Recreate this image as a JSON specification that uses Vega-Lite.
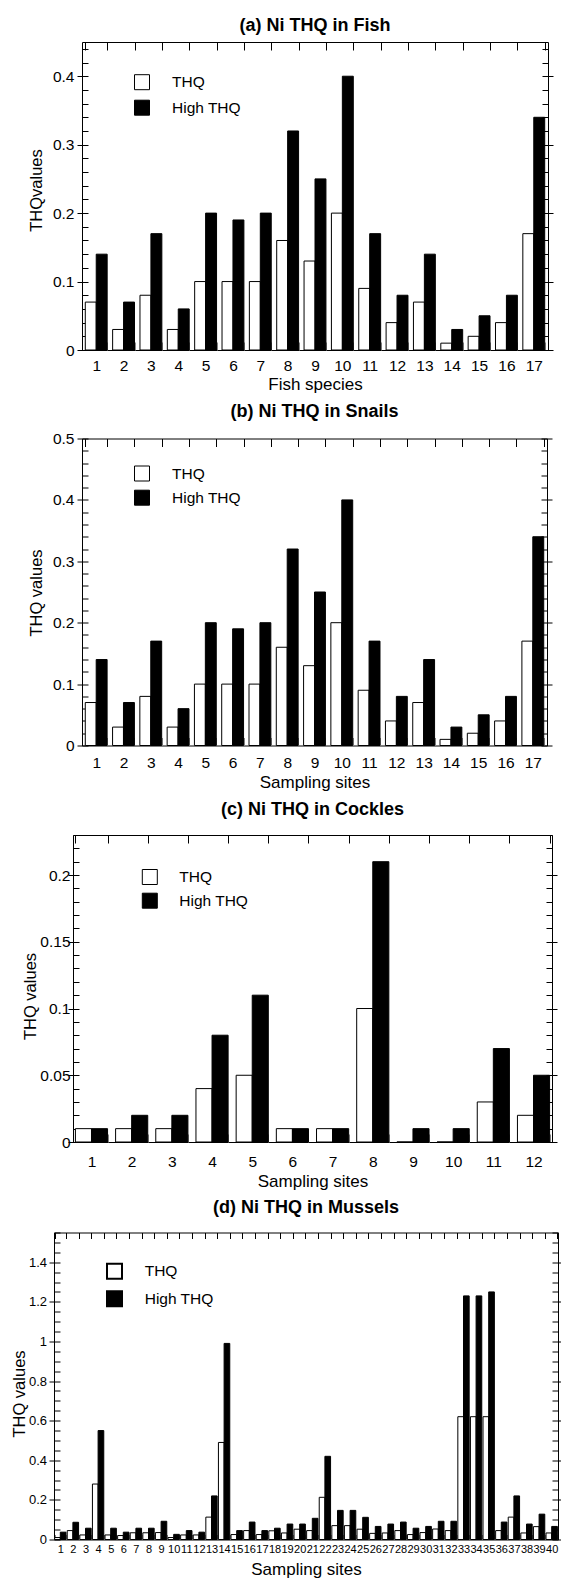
{
  "$schema": "https://vega.github.io/schema/vega-lite/v6.json",
  "background": "white",
  "padding": {"left": 10, "top": 16, "right": 0, "bottom": 0},
  "spacing": 8.5,
  "align": "each",
  "config": {
    "font": "Liberation Sans",
    "view": {"stroke": "black", "strokeWidth": 1},
    "axis": {"domain": false, "grid": false, "labelColor": "black", "titleColor": "black", "tickColor": "black", "tickWidth": 1, "titleFontWeight": "normal", "labelFontSize": 15.5, "titleFontSize": 17, "labelFont": "Liberation Sans", "titleFont": "Liberation Sans"},
    "title": {"font": "Liberation Sans", "fontSize": 18, "fontWeight": "bold", "color": "black", "anchor": "middle", "frame": "group"},
    "legend": {"labelFont": "Liberation Sans", "labelColor": "black", "labelFontSize": 15.5, "symbolStrokeColor": "black", "padding": 0}
  },
  "datasets": {
    "fish": [
      {"site":1,"series":"THQ","value":0.07},{"site":1,"series":"High THQ","value":0.14},
      {"site":2,"series":"THQ","value":0.03},{"site":2,"series":"High THQ","value":0.07},
      {"site":3,"series":"THQ","value":0.08},{"site":3,"series":"High THQ","value":0.17},
      {"site":4,"series":"THQ","value":0.03},{"site":4,"series":"High THQ","value":0.06},
      {"site":5,"series":"THQ","value":0.10},{"site":5,"series":"High THQ","value":0.20},
      {"site":6,"series":"THQ","value":0.10},{"site":6,"series":"High THQ","value":0.19},
      {"site":7,"series":"THQ","value":0.10},{"site":7,"series":"High THQ","value":0.20},
      {"site":8,"series":"THQ","value":0.16},{"site":8,"series":"High THQ","value":0.32},
      {"site":9,"series":"THQ","value":0.13},{"site":9,"series":"High THQ","value":0.25},
      {"site":10,"series":"THQ","value":0.20},{"site":10,"series":"High THQ","value":0.40},
      {"site":11,"series":"THQ","value":0.09},{"site":11,"series":"High THQ","value":0.17},
      {"site":12,"series":"THQ","value":0.04},{"site":12,"series":"High THQ","value":0.08},
      {"site":13,"series":"THQ","value":0.07},{"site":13,"series":"High THQ","value":0.14},
      {"site":14,"series":"THQ","value":0.01},{"site":14,"series":"High THQ","value":0.03},
      {"site":15,"series":"THQ","value":0.02},{"site":15,"series":"High THQ","value":0.05},
      {"site":16,"series":"THQ","value":0.04},{"site":16,"series":"High THQ","value":0.08},
      {"site":17,"series":"THQ","value":0.17},{"site":17,"series":"High THQ","value":0.34}
    ],
    "snails": [
      {"site":1,"series":"THQ","value":0.07},{"site":1,"series":"High THQ","value":0.14},
      {"site":2,"series":"THQ","value":0.03},{"site":2,"series":"High THQ","value":0.07},
      {"site":3,"series":"THQ","value":0.08},{"site":3,"series":"High THQ","value":0.17},
      {"site":4,"series":"THQ","value":0.03},{"site":4,"series":"High THQ","value":0.06},
      {"site":5,"series":"THQ","value":0.10},{"site":5,"series":"High THQ","value":0.20},
      {"site":6,"series":"THQ","value":0.10},{"site":6,"series":"High THQ","value":0.19},
      {"site":7,"series":"THQ","value":0.10},{"site":7,"series":"High THQ","value":0.20},
      {"site":8,"series":"THQ","value":0.16},{"site":8,"series":"High THQ","value":0.32},
      {"site":9,"series":"THQ","value":0.13},{"site":9,"series":"High THQ","value":0.25},
      {"site":10,"series":"THQ","value":0.20},{"site":10,"series":"High THQ","value":0.40},
      {"site":11,"series":"THQ","value":0.09},{"site":11,"series":"High THQ","value":0.17},
      {"site":12,"series":"THQ","value":0.04},{"site":12,"series":"High THQ","value":0.08},
      {"site":13,"series":"THQ","value":0.07},{"site":13,"series":"High THQ","value":0.14},
      {"site":14,"series":"THQ","value":0.01},{"site":14,"series":"High THQ","value":0.03},
      {"site":15,"series":"THQ","value":0.02},{"site":15,"series":"High THQ","value":0.05},
      {"site":16,"series":"THQ","value":0.04},{"site":16,"series":"High THQ","value":0.08},
      {"site":17,"series":"THQ","value":0.17},{"site":17,"series":"High THQ","value":0.34}
    ],
    "cockles": [
      {"site":1,"series":"THQ","value":0.01},{"site":1,"series":"High THQ","value":0.01},
      {"site":2,"series":"THQ","value":0.01},{"site":2,"series":"High THQ","value":0.02},
      {"site":3,"series":"THQ","value":0.01},{"site":3,"series":"High THQ","value":0.02},
      {"site":4,"series":"THQ","value":0.04},{"site":4,"series":"High THQ","value":0.08},
      {"site":5,"series":"THQ","value":0.05},{"site":5,"series":"High THQ","value":0.11},
      {"site":6,"series":"THQ","value":0.01},{"site":6,"series":"High THQ","value":0.01},
      {"site":7,"series":"THQ","value":0.01},{"site":7,"series":"High THQ","value":0.01},
      {"site":8,"series":"THQ","value":0.10},{"site":8,"series":"High THQ","value":0.21},
      {"site":9,"series":"THQ","value":0},{"site":9,"series":"High THQ","value":0.01},
      {"site":10,"series":"THQ","value":0},{"site":10,"series":"High THQ","value":0.01},
      {"site":11,"series":"THQ","value":0.03},{"site":11,"series":"High THQ","value":0.07},
      {"site":12,"series":"THQ","value":0.02},{"site":12,"series":"High THQ","value":0.05}
    ],
    "mussels": [
      {"site":1,"series":"THQ","value":0.01},{"site":1,"series":"High THQ","value":0.037},
      {"site":2,"series":"THQ","value":0.045},{"site":2,"series":"High THQ","value":0.087},
      {"site":3,"series":"THQ","value":0.023},{"site":3,"series":"High THQ","value":0.057},
      {"site":4,"series":"THQ","value":0.28},{"site":4,"series":"High THQ","value":0.55},
      {"site":5,"series":"THQ","value":0.023},{"site":5,"series":"High THQ","value":0.057},
      {"site":6,"series":"THQ","value":0.02},{"site":6,"series":"High THQ","value":0.037},
      {"site":7,"series":"THQ","value":0.034},{"site":7,"series":"High THQ","value":0.057},
      {"site":8,"series":"THQ","value":0.034},{"site":8,"series":"High THQ","value":0.057},
      {"site":9,"series":"THQ","value":0.035},{"site":9,"series":"High THQ","value":0.092},
      {"site":10,"series":"THQ","value":0.01},{"site":10,"series":"High THQ","value":0.026},
      {"site":11,"series":"THQ","value":0.023},{"site":11,"series":"High THQ","value":0.045},
      {"site":12,"series":"THQ","value":0.023},{"site":12,"series":"High THQ","value":0.037},
      {"site":13,"series":"THQ","value":0.113},{"site":13,"series":"High THQ","value":0.22},
      {"site":14,"series":"THQ","value":0.49},{"site":14,"series":"High THQ","value":0.99},
      {"site":15,"series":"THQ","value":0.025},{"site":15,"series":"High THQ","value":0.045},
      {"site":16,"series":"THQ","value":0.045},{"site":16,"series":"High THQ","value":0.088},
      {"site":17,"series":"THQ","value":0.025},{"site":17,"series":"High THQ","value":0.045},
      {"site":18,"series":"THQ","value":0.044},{"site":18,"series":"High THQ","value":0.057},
      {"site":19,"series":"THQ","value":0.033},{"site":19,"series":"High THQ","value":0.078},
      {"site":20,"series":"THQ","value":0.052},{"site":20,"series":"High THQ","value":0.078},
      {"site":21,"series":"THQ","value":0.045},{"site":21,"series":"High THQ","value":0.107},
      {"site":22,"series":"THQ","value":0.213},{"site":22,"series":"High THQ","value":0.42},
      {"site":23,"series":"THQ","value":0.07},{"site":23,"series":"High THQ","value":0.147},
      {"site":24,"series":"THQ","value":0.07},{"site":24,"series":"High THQ","value":0.147},
      {"site":25,"series":"THQ","value":0.052},{"site":25,"series":"High THQ","value":0.112},
      {"site":26,"series":"THQ","value":0.031},{"site":26,"series":"High THQ","value":0.066},
      {"site":27,"series":"THQ","value":0.033},{"site":27,"series":"High THQ","value":0.078},
      {"site":28,"series":"THQ","value":0.045},{"site":28,"series":"High THQ","value":0.088},
      {"site":29,"series":"THQ","value":0.025},{"site":29,"series":"High THQ","value":0.057},
      {"site":30,"series":"THQ","value":0.035},{"site":30,"series":"High THQ","value":0.066},
      {"site":31,"series":"THQ","value":0.053},{"site":31,"series":"High THQ","value":0.092},
      {"site":32,"series":"THQ","value":0.045},{"site":32,"series":"High THQ","value":0.092},
      {"site":33,"series":"THQ","value":0.62},{"site":33,"series":"High THQ","value":1.23},
      {"site":34,"series":"THQ","value":0.62},{"site":34,"series":"High THQ","value":1.23},
      {"site":35,"series":"THQ","value":0.62},{"site":35,"series":"High THQ","value":1.25},
      {"site":36,"series":"THQ","value":0.045},{"site":36,"series":"High THQ","value":0.088},
      {"site":37,"series":"THQ","value":0.113},{"site":37,"series":"High THQ","value":0.22},
      {"site":38,"series":"THQ","value":0.033},{"site":38,"series":"High THQ","value":0.078},
      {"site":39,"series":"THQ","value":0.065},{"site":39,"series":"High THQ","value":0.128},
      {"site":40,"series":"THQ","value":0.033},{"site":40,"series":"High THQ","value":0.066}
    ]
  },
  "resolve": {"scale": {"color": "independent", "xOffset": "independent"}, "legend": {"color": "independent"}},
  "vconcat": [
    {
      "spacing": 0,
      "resolve": {"scale": {"color": "independent"}, "legend": {"color": "independent"}},
      "hconcat": [
        {"width": 16.7, "height": 1, "data": {"values": [{"a": 1}]}, "mark": {"type": "text", "text": "", "opacity": 0}, "view": {"stroke": null}},
        {
          "title": {"text": "(a) Ni THQ in Fish", "offset": 6.7},
          "width": 466, "height": 308,
          "data": {"name": "fish"},
          "layer": [
            {
              "mark": {"type": "bar", "stroke": "black", "strokeWidth": 1},
              "encoding": {
                "x": {"field": "site", "type": "ordinal", "scale": {"domain": [1,2,3,4,5,6,7,8,9,10,11,12,13,14,15,16,17], "paddingInner": 0.2, "paddingOuter": 0.12},
                      "axis": {"orient": "bottom", "title": "Fish species", "labelAngle": 0, "tickBand": "extent", "offset": -8, "tickSize": 8, "tickColor": "#888888", "labelPadding": 8, "titlePadding": 2.5, "labelOverlap": false}},
                "xOffset": {"field": "series", "scale": {"domain": ["THQ", "High THQ"]}},
                "y": {"field": "value", "type": "quantitative", "stack": null, "scale": {"domain": [0, 0.45], "nice": false},
                      "axis": {"orient": "left", "values": [0,0.02,0.04,0.06,0.08,0.1,0.12,0.14,0.16,0.18,0.2,0.22,0.24,0.26,0.28,0.3,0.32,0.34,0.36,0.38,0.4,0.42,0.44], "format": "~g",
                               "labelExpr": "abs(datum.value*10-round(datum.value*10))<0.001 ? datum.label : ''",
                               "offset": -6, "tickSize": 11, "tickDash": {"condition": {"test": "abs(datum.value*10-round(datum.value*10))>0.001", "value": [6, 100]}, "value": []},
                               "labelPadding": 3, "labelFlush": false, "labelOverlap": false,
                               "title": "THQvalues", "titleX": -52, "titleY": 148, "titleBaseline": "middle", "titleFontSize": 16.5}},
                "color": {"field": "series", "type": "nominal", "scale": {"domain": ["THQ", "High THQ"], "range": ["white", "black"]},
                          "legend": {"orient": "none", "legendX": 52, "legendY": 32.2, "title": null, "symbolType": "square", "symbolSize": 225, "symbolStrokeWidth": 1, "labelOffset": 22, "rowPadding": 5.5}}
              }
            },
            {
              "mark": {"type": "bar", "opacity": 0},
              "encoding": {
                "x": {"field": "site", "type": "ordinal", "scale": {"domain": [1,2,3,4,5,6,7,8,9,10,11,12,13,14,15,16,17], "paddingInner": 0.2, "paddingOuter": 0.12},
                      "axis": {"orient": "top", "labels": false, "title": null, "tickBand": "extent", "offset": -8, "tickSize": 8}},
                "y": {"field": "value", "type": "quantitative", "stack": null, "scale": {"domain": [0, 0.45], "nice": false},
                      "axis": {"orient": "right", "values": [0,0.02,0.04,0.06,0.08,0.1,0.12,0.14,0.16,0.18,0.2,0.22,0.24,0.26,0.28,0.3,0.32,0.34,0.36,0.38,0.4,0.42,0.44], "labels": false, "title": null,
                               "offset": -6, "tickSize": 11, "tickDash": {"condition": {"test": "abs(datum.value*10-round(datum.value*10))>0.001", "value": [6, 100]}, "value": []}}}
              }
            }
          ],
          "resolve": {"axis": {"x": "independent", "y": "independent"}}
        }
      ]
    },
    {
      "spacing": 0,
      "resolve": {"scale": {"color": "independent"}, "legend": {"color": "independent"}},
      "hconcat": [
        {"width": 16.7, "height": 1, "data": {"values": [{"a": 1}]}, "mark": {"type": "text", "text": "", "opacity": 0}, "view": {"stroke": null}},
        {
          "title": {"text": "(b) Ni THQ in Snails", "offset": 10.7},
          "width": 465, "height": 307,
          "data": {"name": "snails"},
          "layer": [
            {
              "mark": {"type": "bar", "stroke": "black", "strokeWidth": 1},
              "encoding": {
                "x": {"field": "site", "type": "ordinal", "scale": {"domain": [1,2,3,4,5,6,7,8,9,10,11,12,13,14,15,16,17], "paddingInner": 0.2, "paddingOuter": 0.12},
                      "axis": {"orient": "bottom", "title": "Sampling sites", "labelAngle": 0, "tickBand": "extent", "offset": -8, "tickSize": 8, "tickColor": "#888888", "labelPadding": 10, "titlePadding": 3.9, "labelOverlap": false}},
                "xOffset": {"field": "series", "scale": {"domain": ["THQ", "High THQ"]}},
                "y": {"field": "value", "type": "quantitative", "stack": null, "scale": {"domain": [0, 0.5], "nice": false},
                      "axis": {"orient": "left", "values": [0,0.02,0.04,0.06,0.08,0.1,0.12,0.14,0.16,0.18,0.2,0.22,0.24,0.26,0.28,0.3,0.32,0.34,0.36,0.38,0.4,0.42,0.44,0.46,0.48,0.5], "format": "~g",
                               "labelExpr": "abs(datum.value*10-round(datum.value*10))<0.001 ? datum.label : ''",
                               "offset": -6, "tickSize": 11, "tickDash": {"condition": {"test": "abs(datum.value*10-round(datum.value*10))>0.001", "value": [6, 100]}, "value": []},
                               "labelPadding": 3, "labelFlush": false, "labelOverlap": false,
                               "title": "THQ values", "titleX": -52, "titleY": 154, "titleBaseline": "middle", "titleFontSize": 16.5}},
                "color": {"field": "series", "type": "nominal", "scale": {"domain": ["THQ", "High THQ"], "range": ["white", "black"]},
                          "legend": {"orient": "none", "legendX": 52, "legendY": 27, "title": null, "symbolType": "square", "symbolSize": 225, "symbolStrokeWidth": 1, "labelOffset": 22, "rowPadding": 4.2}}
              }
            },
            {
              "mark": {"type": "bar", "opacity": 0},
              "encoding": {
                "x": {"field": "site", "type": "ordinal", "scale": {"domain": [1,2,3,4,5,6,7,8,9,10,11,12,13,14,15,16,17], "paddingInner": 0.2, "paddingOuter": 0.12},
                      "axis": {"orient": "top", "labels": false, "title": null, "tickBand": "extent", "offset": -8, "tickSize": 8}},
                "y": {"field": "value", "type": "quantitative", "stack": null, "scale": {"domain": [0, 0.5], "nice": false},
                      "axis": {"orient": "right", "values": [0,0.02,0.04,0.06,0.08,0.1,0.12,0.14,0.16,0.18,0.2,0.22,0.24,0.26,0.28,0.3,0.32,0.34,0.36,0.38,0.4,0.42,0.44,0.46,0.48,0.5], "labels": false, "title": null,
                               "offset": -6, "tickSize": 11, "tickDash": {"condition": {"test": "abs(datum.value*10-round(datum.value*10))>0.001", "value": [6, 100]}, "value": []}}}
              }
            }
          ],
          "resolve": {"axis": {"x": "independent", "y": "independent"}}
        }
      ]
    },
    {
      "spacing": 0,
      "resolve": {"scale": {"color": "independent"}, "legend": {"color": "independent"}},
      "hconcat": [
        {"width": 11.8, "height": 1, "data": {"values": [{"a": 1}]}, "mark": {"type": "text", "text": "", "opacity": 0}, "view": {"stroke": null}},
        {
          "title": {"text": "(c) Ni THQ in Cockles", "offset": 9},
          "width": 479, "height": 307,
          "data": {"name": "cockles"},
          "layer": [
            {
              "mark": {"type": "bar", "stroke": "black", "strokeWidth": 1},
              "encoding": {
                "x": {"field": "site", "type": "ordinal", "scale": {"domain": [1,2,3,4,5,6,7,8,9,10,11,12], "paddingInner": 0.2, "paddingOuter": 0.06},
                      "axis": {"orient": "bottom", "title": "Sampling sites", "labelAngle": 0, "tickBand": "extent", "offset": -8, "tickSize": 8, "tickColor": "#888888", "labelPadding": 12.3, "titlePadding": 3.3, "labelOverlap": false}},
                "xOffset": {"field": "series", "scale": {"domain": ["THQ", "High THQ"]}},
                "y": {"field": "value", "type": "quantitative", "stack": null, "scale": {"domain": [0, 0.23], "nice": false},
                      "axis": {"orient": "left", "values": [0,0.01,0.02,0.03,0.04,0.05,0.06,0.07,0.08,0.09,0.1,0.11,0.12,0.13,0.14,0.15,0.16,0.17,0.18,0.19,0.2,0.21,0.22,0.23], "format": "~g",
                               "labelExpr": "abs(datum.value*20-round(datum.value*20))<0.001 ? datum.label : ''",
                               "offset": -6, "tickSize": 11, "tickDash": {"condition": {"test": "abs(datum.value*20-round(datum.value*20))>0.001", "value": [6, 100]}, "value": []},
                               "labelPadding": -2, "labelFlush": false, "labelOverlap": false,
                               "title": "THQ values", "titleX": -48.3, "titleY": 161, "titleBaseline": "middle", "titleFontSize": 16.5}},
                "color": {"field": "series", "type": "nominal", "scale": {"domain": ["THQ", "High THQ"], "range": ["white", "black"]},
                          "legend": {"orient": "none", "legendX": 68.8, "legendY": 34, "title": null, "symbolType": "square", "symbolSize": 225, "symbolStrokeWidth": 1, "labelOffset": 21.5, "rowPadding": 3.7}}
              }
            },
            {
              "mark": {"type": "bar", "opacity": 0},
              "encoding": {
                "x": {"field": "site", "type": "ordinal", "scale": {"domain": [1,2,3,4,5,6,7,8,9,10,11,12], "paddingInner": 0.2, "paddingOuter": 0.06},
                      "axis": {"orient": "top", "labels": false, "title": null, "tickBand": "extent", "offset": -8, "tickSize": 8}},
                "y": {"field": "value", "type": "quantitative", "stack": null, "scale": {"domain": [0, 0.23], "nice": false},
                      "axis": {"orient": "right", "values": [0,0.01,0.02,0.03,0.04,0.05,0.06,0.07,0.08,0.09,0.1,0.11,0.12,0.13,0.14,0.15,0.16,0.17,0.18,0.19,0.2,0.21,0.22,0.23], "labels": false, "title": null,
                               "offset": -6, "tickSize": 11, "tickDash": {"condition": {"test": "abs(datum.value*20-round(datum.value*20))>0.001", "value": [6, 100]}, "value": []}}}
              }
            }
          ],
          "resolve": {"axis": {"x": "independent", "y": "independent"}}
        }
      ]
    },
    {
      "spacing": 0,
      "resolve": {"scale": {"color": "independent"}, "legend": {"color": "independent"}},
      "hconcat": [
        {"width": 1, "height": 1, "data": {"values": [{"a": 1}]}, "mark": {"type": "text", "text": "", "opacity": 0}, "view": {"stroke": null}},
        {
          "title": {"text": "(d) Ni THQ in Mussels", "offset": 9.3},
          "width": 504, "height": 307,
          "data": {"name": "mussels"},
          "layer": [
            {
              "mark": {"type": "bar", "stroke": "black", "strokeWidth": 1},
              "encoding": {
                "x": {"field": "site", "type": "ordinal", "scale": {"domain": [1,2,3,4,5,6,7,8,9,10,11,12,13,14,15,16,17,18,19,20,21,22,23,24,25,26,27,28,29,30,31,32,33,34,35,36,37,38,39,40], "paddingInner": 0.1, "paddingOuter": 0.05},
                      "axis": {"orient": "bottom", "title": "Sampling sites", "labelAngle": 0, "labelFontSize": 11, "tickBand": "extent", "offset": -5, "tickSize": 5, "tickColor": "#888888", "labelPadding": 3.8, "titlePadding": 7, "labelOverlap": false}},
                "xOffset": {"field": "series", "scale": {"domain": ["THQ", "High THQ"]}},
                "y": {"field": "value", "type": "quantitative", "stack": null, "scale": {"domain": [0, 1.55], "nice": false},
                      "axis": {"orient": "left", "values": [0,0.05,0.1,0.15,0.2,0.25,0.3,0.35,0.4,0.45,0.5,0.55,0.6,0.65,0.7,0.75,0.8,0.85,0.9,0.95,1,1.05,1.1,1.15,1.2,1.25,1.3,1.35,1.4,1.45,1.5,1.55], "format": "~g",
                               "labelExpr": "abs(datum.value*5-round(datum.value*5))<0.001 ? datum.label : ''",
                               "offset": -6, "tickSize": 11, "tickDash": {"condition": {"test": "abs(datum.value*5-round(datum.value*5))>0.001", "value": [6, 100]}, "value": []},
                               "labelPadding": 2.4, "labelFontSize": 13, "labelFlush": false, "labelOverlap": false,
                               "title": "THQ values", "titleX": -40.3, "titleY": 161, "titleBaseline": "middle", "titleFontSize": 16.5}},
                "color": {"field": "series", "type": "nominal", "scale": {"domain": ["THQ", "High THQ"], "range": ["white", "black"]},
                          "legend": {"orient": "none", "legendX": 52, "legendY": 30.3, "title": null, "symbolType": "square", "symbolSize": 225, "symbolStrokeWidth": 2, "labelOffset": 21.7, "rowPadding": 4.5}}
              }
            },
            {
              "mark": {"type": "bar", "opacity": 0},
              "encoding": {
                "x": {"field": "site", "type": "ordinal", "scale": {"domain": [1,2,3,4,5,6,7,8,9,10,11,12,13,14,15,16,17,18,19,20,21,22,23,24,25,26,27,28,29,30,31,32,33,34,35,36,37,38,39,40], "paddingInner": 0.1, "paddingOuter": 0.05},
                      "axis": {"orient": "top", "labels": false, "title": null, "tickBand": "extent", "offset": -6, "tickSize": 6}},
                "y": {"field": "value", "type": "quantitative", "stack": null, "scale": {"domain": [0, 1.55], "nice": false},
                      "axis": {"orient": "right", "values": [0,0.05,0.1,0.15,0.2,0.25,0.3,0.35,0.4,0.45,0.5,0.55,0.6,0.65,0.7,0.75,0.8,0.85,0.9,0.95,1,1.05,1.1,1.15,1.2,1.25,1.3,1.35,1.4,1.45,1.5,1.55], "labels": false, "title": null,
                               "offset": -6, "tickSize": 9, "tickDash": {"condition": {"test": "abs(datum.value*5-round(datum.value*5))>0.001", "value": [6, 100]}, "value": []}}}
              }
            }
          ],
          "resolve": {"axis": {"x": "independent", "y": "independent"}}
        }
      ]
    }
  ]
}
